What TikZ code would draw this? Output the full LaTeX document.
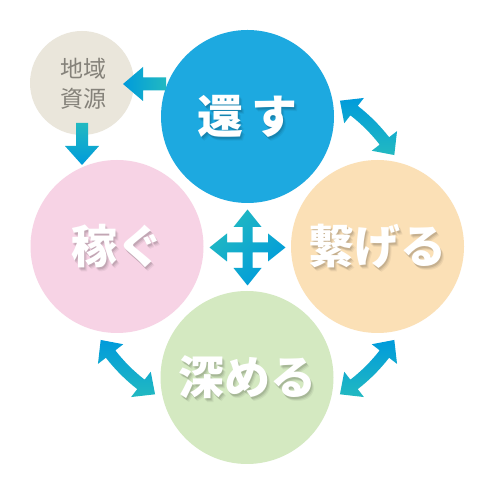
\documentclass[tikz,border=0pt]{standalone}
\usepackage{fontspec}
\newfontfamily\jp{Noto Sans CJK JP}
\definecolor{cblue}{HTML}{1DA9E0}
\definecolor{cpink}{HTML}{F7D3E5}
\definecolor{corange}{HTML}{FBE0B6}
\definecolor{cgreen}{HTML}{D4E9C1}
\definecolor{cbeige}{HTML}{EAE6DB}
\definecolor{ablue}{HTML}{009BDB}
\definecolor{ateal}{HTML}{22B9C1}
\definecolor{srctext}{HTML}{85827A}
\newcommand\biglabel[3]{%
  \foreach \dx/\dy/\op in {1/-1.5/0.10,2/-2.5/0.07,3/-3.5/0.05}
    \node[lbl, text=black, text opacity=\op] at ([shift={(\dx,\dy)}]#2) {#3};
  \node[lbl, text=white] (#1) at (#2) {#3};}
\begin{document}
\begin{tikzpicture}[x=1pt,y=1pt,
  bigc/.style={circle, inner sep=0pt, minimum size=173pt},
  lbl/.style={inner sep=0pt, font=\jp\bfseries\fontsize{46}{46}\selectfont},
  arrowshade/.style={top color=ablue, bottom color=ateal}]
\useasboundingbox (0,0) rectangle (495,495);
\fill[white] (0,0) rectangle (495,495);
\coordinate (O) at (247.5,247.5);
% circles
\node[bigc, fill=cblue]   (kaesuC)   at (247.5,378.5) {};
\node[bigc, fill=cpink]   (kaseguC)  at (117,248.5) {};
\node[bigc, fill=corange] (tsunaguC) at (377.5,248.5) {};
\node[bigc, fill=cgreen]  (fukaC)    at (247,117.5) {};
\node[circle, inner sep=0pt, minimum size=104pt, fill=cbeige] (src) at (82,412) {};
\node[align=center, text=srctext, inner sep=0pt,
  font=\jp\fontsize{23}{30}\selectfont] (srcT) at (83,411.5) {地域\\資源};
% curved double arrows
\begin{scope}[shift={(O)}]
\foreach \c in {45,-45,-135}{
  \shade[arrowshade] (\c-7.1:167.5) arc[start angle=\c-7.1, end angle=\c+7.1, radius=167.5]
    -- (\c+7.1:157.5) -- (\c+12.8:173.5) -- (\c+7.1:189.5) -- (\c+7.1:179.5)
    arc[start angle=\c+7.1, end angle=\c-7.1, radius=179.5]
    -- (\c-7.1:189.5) -- (\c-12.8:173.5) -- (\c-7.1:157.5) -- cycle;
}
% cross arrow
\shade[top color=ateal, bottom color=ablue, shading angle=45]
  (20.5,5) -- (20.5,14) -- (38,0) -- (20.5,-14) -- (20.5,-5) -- (5,-5)
  -- (5,-20.5) -- (14,-20.5) -- (0,-38) -- (-14,-20.5) -- (-5,-20.5) -- (-5,-5)
  -- (-20.5,-5) -- (-20.5,-14) -- (-38,0) -- (-20.5,14) -- (-20.5,5) -- (-5,5)
  -- (-5,20.5) -- (-14,20.5) -- (0,38) -- (14,20.5) -- (5,20.5) -- (5,5) -- cycle;
\end{scope}
% straight arrows
\shade[left color=ablue, right color=ateal]
  (123,411) -- (143,428) -- (143,417.5) -- (166,417.5) -- (166,404.5)
  -- (143,404.5) -- (143,394) -- cycle;
\shade[top color=ateal, bottom color=ablue]
  (76,372) -- (88,372) -- (88,349) -- (99,349) -- (82,330) -- (65,349) -- (76,349) -- cycle;
% labels
\biglabel{kaesu}{kaesuC.center}{還\hspace{8pt}す}
\biglabel{kasegu}{kaseguC.center}{稼ぐ}
\biglabel{tsunagu}{tsunaguC.center}{繋げる}
\biglabel{fukameru}{fukaC.center}{深める}
\end{tikzpicture}
\end{document}
